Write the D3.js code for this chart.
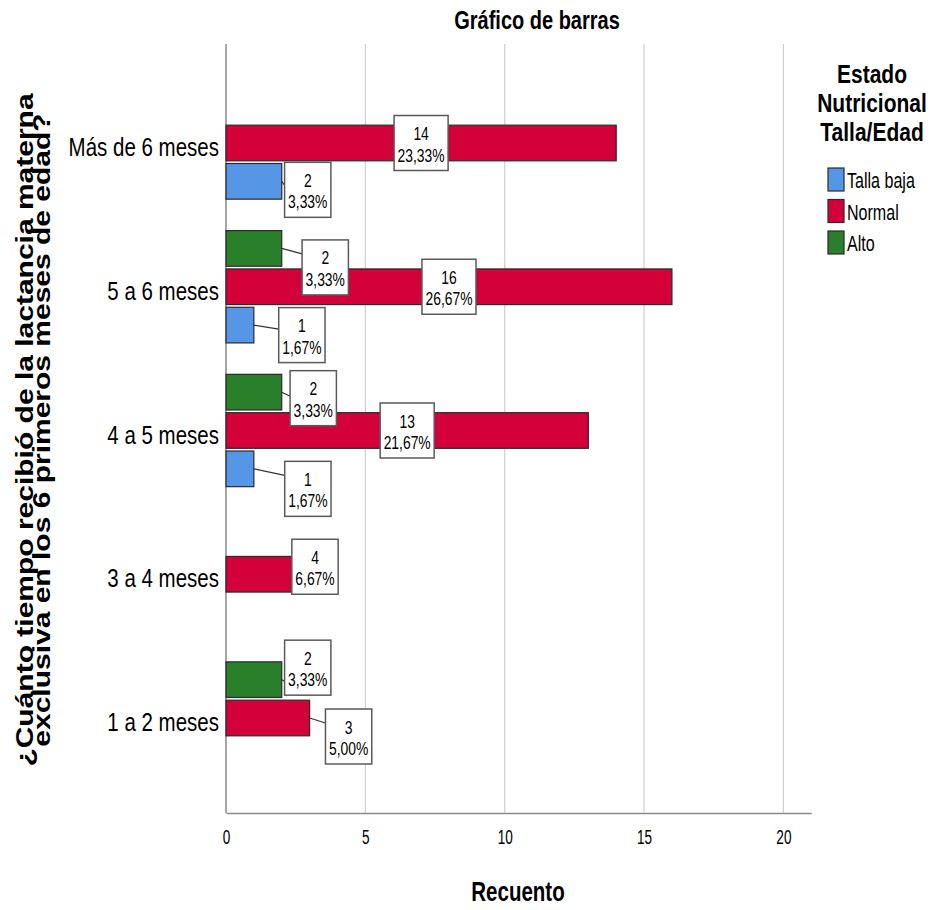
<!DOCTYPE html>
<html>
<head>
<meta charset="utf-8">
<script src="https://cdn.jsdelivr.net/npm/d3@7"></script>
<style>
  html, body { margin: 0; padding: 0; background: #fff; }
  svg { display: block; font-family: "Liberation Sans", Arial, sans-serif; }
</style>
</head>
<body>
<svg id="chart" width="931" height="910"></svg>
<script>
// ---- data ----
const categories = ["Más de 6 meses", "5 a 6 meses", "4 a 5 meses", "3 a 4 meses", "1 a 2 meses"];
const seriesNames = ["Talla baja", "Normal", "Alto"];
const tallaBaja = [2, 1, 1, 0, 0];
const normal = [14, 16, 13, 4, 3];
const alto = [0, 2, 2, 0, 2];
const totalCases = 60;
const xTicks = [0, 5, 10, 15, 20];

// ---- layout / style (not data) ----
const colors = { "Talla baja": "#5596e6", "Normal": "#d3003a", "Alto": "#2a802a" };
const barOrder = ["Alto", "Normal", "Talla baja"]; // top to bottom inside a group
// label box nudges for short bars: [dx from bar end, dy from bar centre]
const labelNudge = {
  "Más de 6 meses|Talla baja": [26, 8.5],
  "5 a 6 meses|Alto": [43.5, 19],
  "5 a 6 meses|Talla baja": [48, 10],
  "4 a 5 meses|Alto": [31.5, 6],
  "4 a 5 meses|Talla baja": [54, 20],
  "3 a 4 meses|Normal": [-22.5, -7.5],
  "1 a 2 meses|Alto": [26, -12],
  "1 a 2 meses|Normal": [39, 18.5]
};

const seriesValues = { "Talla baja": tallaBaja, "Normal": normal, "Alto": alto };

const svg = d3.select("#chart");
const plotTop = 44, plotBottom = 813;

const x = d3.scaleLinear().domain([0, 21]).range([226, 811.3]);
const y = d3.scalePoint().domain(categories).range([143, 718]);
const sub = d3.scaleBand().domain(barOrder).range([-57.5, 57.5]).paddingInner(0.07).paddingOuter(0.035);

// helper: squeezed text
function sText(g, tx, ty, str, opts) {
  const t = g.append("text")
    .attr("transform", `translate(${tx},${ty}) scale(${opts.sx || 1},1)`)
    .attr("font-size", opts.size)
    .attr("font-weight", opts.weight || "normal")
    .attr("text-anchor", opts.anchor || "start")
    .attr("fill", "#000")
    .text(str);
  return t;
}

// gridlines
svg.append("g").selectAll("line").data(xTicks.filter(d => d > 0)).join("line")
  .attr("x1", d => x(d)).attr("x2", d => x(d))
  .attr("y1", plotTop).attr("y2", plotBottom)
  .attr("stroke", "#cfcfcf").attr("stroke-width", 1.2);

// axes lines
const xAxis = d3.axisBottom(x).tickValues(xTicks).tickSize(0).tickFormat(d3.format("d"));
const gx = svg.append("g").attr("transform", `translate(0,${plotBottom})`).call(xAxis);
gx.select(".domain").attr("stroke", "#8a8a8a").attr("stroke-width", 1.5);
gx.selectAll(".tick text").remove();
gx.selectAll(".tick").each(function(d) {
  sText(d3.select(this), 0, 31, String(d), { size: 20, sx: 0.68, anchor: "middle" });
});

const yAxis = d3.axisLeft(y).tickSize(0).tickFormat("");
const gy = svg.append("g").attr("transform", `translate(${x(0)},0)`).call(yAxis);
gy.select(".domain").attr("d", `M0,${plotTop}V${plotBottom}`).attr("stroke", "#8a8a8a").attr("stroke-width", 1.5);

// category labels
svg.append("g").selectAll("g").data(categories).join("g").each(function(c) {
  sText(d3.select(this), 219, y(c) + 13, c, { size: 25, sx: 0.82, anchor: "end" });
});

// bars
const barData = [];
categories.forEach((c, i) => {
  seriesNames.forEach(s => {
    const v = seriesValues[s][i];
    if (v > 0) barData.push({ cat: c, series: s, value: v });
  });
});

svg.append("g").selectAll("rect").data(barData).join("rect")
  .attr("x", x(0))
  .attr("y", d => y(d.cat) + sub(d.series))
  .attr("width", d => x(d.value) - x(0))
  .attr("height", sub.bandwidth())
  .attr("fill", d => colors[d.series])
  .attr("stroke", "#2b2b2b").attr("stroke-width", 1.2);

// value labels
const fmtPct = v => (v / totalCases * 100).toFixed(2).replace(".", ",") + "%";
const lblG = svg.append("g");
const lblSize = 19, lblSx = 0.73;
barData.forEach(d => {
  const barEnd = x(d.value);
  const barCy = y(d.cat) + sub(d.series) + sub.bandwidth() / 2;
  const key = d.cat + "|" + d.series;
  let cx, cy;
  if (labelNudge[key]) {
    cx = barEnd + labelNudge[key][0];
    cy = barCy + labelNudge[key][1];
  } else {
    cx = x(d.value / 2);
    cy = barCy;
  }
  const g = lblG.append("g");
  const line = g.append("line");
  const rect = g.append("rect");
  const t1 = sText(g, cx, cy - 3, String(d.value), { size: lblSize, sx: lblSx, anchor: "middle" });
  const t2 = sText(g, cx, cy + 18.5, fmtPct(d.value), { size: lblSize, sx: lblSx, anchor: "middle" });
  const w = Math.max(t1.node().getComputedTextLength(), t2.node().getComputedTextLength()) * lblSx + 7;
  const h = 55;
  const bx = cx - w / 2, by = cy - h / 2;
  rect.attr("x", bx).attr("y", by).attr("width", w).attr("height", h)
    .attr("fill", "#fff").attr("stroke", "#5a5a5a").attr("stroke-width", 1.5);
  if (bx > barEnd) {
    const ty = Math.max(by + 14, Math.min(barCy + 4, by + h - 14));
    line.attr("x1", barEnd).attr("y1", barCy).attr("x2", bx).attr("y2", ty)
      .attr("stroke", "#333").attr("stroke-width", 1.2);
  } else {
    line.remove();
  }
});

// title
sText(svg, 537, 29, "Gráfico de barras", { size: 25, sx: 0.8, weight: "bold", anchor: "middle" });
// x title
sText(svg, 518, 901, "Recuento", { size: 27, sx: 0.76, weight: "bold", anchor: "middle" });

// y title (rotated, two lines)
const yt = svg.append("g").attr("transform", "translate(0,430)");
yt.append("text")
  .attr("transform", "translate(33,0) rotate(-90) scale(1,0.82)")
  .attr("font-size", 30).attr("font-weight", "bold").attr("text-anchor", "middle")
  .text("¿Cuánto tiempo recibió de la lactancia materna");
yt.append("text")
  .attr("transform", "translate(50,0) rotate(-90) scale(1,0.82)")
  .attr("font-size", 30).attr("font-weight", "bold").attr("text-anchor", "middle")
  .text("exclusiva en los 6 primeros meses de edad?");

// legend
const legTitle = ["Estado", "Nutricional", "Talla/Edad"];
const lg = svg.append("g");
legTitle.forEach((t, i) => {
  sText(lg, 872, 83 + i * 29, t, { size: 25, sx: 0.84, weight: "bold", anchor: "middle" });
});
seriesNames.forEach((s, i) => {
  const top = 168 + i * 31.5;
  lg.append("rect").attr("x", 828).attr("y", top).attr("width", 16).attr("height", 23)
    .attr("fill", colors[s]).attr("stroke", "#2b2b2b").attr("stroke-width", 1.2);
  sText(lg, 847, top + 20, s, { size: 22, sx: 0.73 });
});
</script>
</body>
</html>
